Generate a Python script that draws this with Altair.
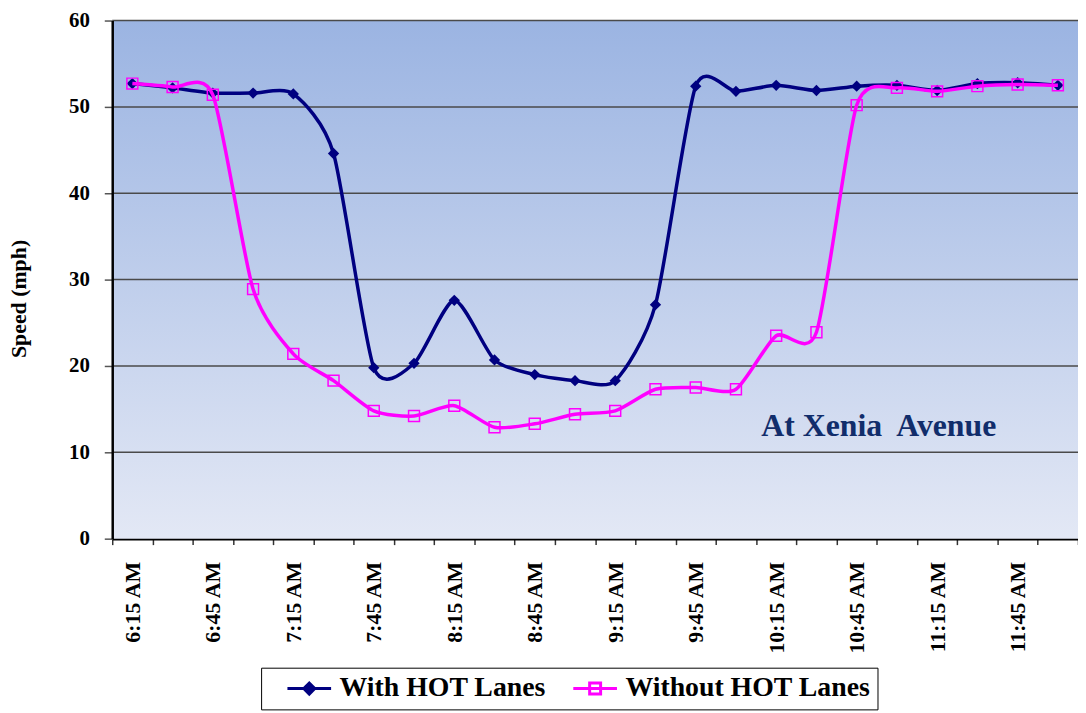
import altair as alt
import pandas as pd

# ---------------- data ----------------
times = ["6:15 AM", "6:30 AM", "6:45 AM", "7:00 AM", "7:15 AM", "7:30 AM",
         "7:45 AM", "8:00 AM", "8:15 AM", "8:30 AM", "8:45 AM", "9:00 AM",
         "9:15 AM", "9:30 AM", "9:45 AM", "10:00 AM", "10:15 AM", "10:30 AM",
         "10:45 AM", "11:00 AM", "11:15 AM", "11:30 AM", "11:45 AM", "12:00 PM"]
with_hot = [52.7, 52.2, 51.6, 51.6, 51.5, 44.6, 19.8, 20.3, 27.6, 20.7, 19.0, 18.3,
            18.3, 27.1, 52.4, 51.8, 52.5, 51.9, 52.4, 52.5, 51.9, 52.7, 52.8, 52.5]
without_hot = [52.7, 52.3, 51.4, 28.9, 21.4, 18.3, 14.8, 14.2, 15.4, 12.9, 13.3, 14.4,
               14.8, 17.3, 17.5, 17.3, 23.5, 23.9, 50.2, 52.2, 51.8, 52.4, 52.6, 52.5]
series_names = ["With HOT Lanes", "Without HOT Lanes"]
series_colors = ["#000080", "#FF00FF"]
y_ticks = [0, 10, 20, 30, 40, 50, 60]
grid_values = [10, 20, 30, 40, 50, 60]
x_label_idx = list(range(0, 24, 2))
x_tick_pos = [i - 0.5 for i in range(25)]
annotation_text = ["At Xenia\u00a0 Avenue"]
annotation_x = [18.55]
annotation_y = [11.9]

# ---------------- tables ----------------
rows = []
for i, t in enumerate(times):
    rows.append({"idx": i, "time": t, "speed": with_hot[i], "series": series_names[0]})
for i, t in enumerate(times):
    rows.append({"idx": i, "time": t, "speed": without_hot[i], "series": series_names[1]})
df = pd.DataFrame(rows)

FONT = "Liberation Serif"
W, H = 973, 522
TENSION = 0.3

xscale = alt.Scale(domain=[-0.5, 23.5], nice=False, zero=False)
yscale = alt.Scale(domain=[0, 60], nice=False, zero=True)

label_array = "[" + ",".join("'" + t + "'" for t in times) + "]"

# background gradient (carries the x tick axis)
bg_df = pd.DataFrame({"x0": [-0.5], "x1": [23.5], "y0": [0], "y1": [60]})
bg = alt.Chart(bg_df).mark_rect(
    fill=alt.Gradient(
        gradient="linear",
        stops=[alt.GradientStop(color="#9bb4e2", offset=0),
               alt.GradientStop(color="#e3e8f5", offset=1)],
        x1=0, x2=0, y1=0, y2=1,
    ),
).encode(
    x=alt.X("x0:Q", scale=xscale, axis=alt.Axis(
        orient="bottom", values=x_tick_pos, labels=False, title=None, grid=False,
        ticks=True, tickSize=6, tickColor="#333333", tickWidth=1.5,
        domain=True, domainColor="black", domainWidth=2.5)),
    x2="x1",
    y=alt.Y("y0:Q", scale=yscale, axis=None),
    y2="y1",
)

# horizontal gridlines + y axis
grid_df = pd.DataFrame({"v": grid_values})
grid = alt.Chart(grid_df).mark_rule(color="#4a4a4a", strokeWidth=1.5).encode(
    y=alt.Y("v:Q", scale=yscale, axis=alt.Axis(
        orient="left", values=y_ticks, title="Speed (mph)", grid=False,
        titleFont=FONT, titleFontSize=22, titleFontWeight="bold", titleColor="black",
        titleX=-82, titleY=280,
        labelFont=FONT, labelFontSize=21, labelFontWeight="bold", labelColor="black",
        labelPadding=15, tickSize=8, tickColor="#555555", tickWidth=1.5,
        domainColor="black", domainWidth=2.5, zindex=1))
)

line_with = alt.Chart(df).transform_filter(
    alt.datum.series == series_names[0]
).mark_line(interpolate="cardinal", tension=TENSION, strokeWidth=3.5,
            color=series_colors[0]).encode(
    x=alt.X("idx:Q", scale=xscale, axis=alt.Axis(
        orient="bottom", values=x_label_idx, labelExpr=label_array + "[datum.value]",
        ticks=False, domain=False, grid=False, title=None,
        labelAngle=270, labelFont=FONT, labelFontSize=22, labelFontWeight="bold",
        labelColor="black", labelPadding=23, labelOverlap=False)),
    y=alt.Y("speed:Q", scale=yscale, axis=None),
)

pts_with = alt.Chart(df).transform_filter(
    alt.datum.series == series_names[0]
).mark_point(shape="diamond", filled=True, size=130, color=series_colors[0], opacity=1).encode(
    x=alt.X("idx:Q", scale=xscale, axis=None),
    y=alt.Y("speed:Q", scale=yscale, axis=None),
)

line_without = alt.Chart(df).transform_filter(
    alt.datum.series == series_names[1]
).mark_line(interpolate="cardinal", tension=TENSION, strokeWidth=3.5,
            color=series_colors[1]).encode(
    x=alt.X("idx:Q", scale=xscale, axis=None),
    y=alt.Y("speed:Q", scale=yscale, axis=None),
)

pts_without = alt.Chart(df).transform_filter(
    alt.datum.series == series_names[1]
).mark_point(shape="square", filled=False, size=121, stroke=series_colors[1],
             strokeWidth=1.5, opacity=1).encode(
    x=alt.X("idx:Q", scale=xscale, axis=None),
    y=alt.Y("speed:Q", scale=yscale, axis=None),
)

ann_df = pd.DataFrame({"ax": annotation_x, "ay": annotation_y, "label": annotation_text})
ann = alt.Chart(ann_df).mark_text(
    font=FONT, fontSize=32, fontWeight="bold", color="#112d6b",
    align="center", baseline="alphabetic",
).encode(
    x=alt.X("ax:Q", scale=xscale, axis=None),
    y=alt.Y("ay:Q", scale=yscale, axis=None),
    text="label:N",
)

# legend symbols: line with marker (custom paths, offset to the right of the symbol slot)
legend_paths = [
    "M0.69,0L6.19,0M2.75,0L3.44,-0.69L4.13,0L3.44,0.69Z",
    "M0.69,0L6.19,0M2.75,-0.69L4.13,-0.69L4.13,0.69L2.75,0.69Z",
]
legend_fills = ["#000080", "transparent"]

leg = alt.Legend(
    title=None, orient="none", legendX=150, legendY=652, direction="horizontal",
    labelFont=FONT, labelFontSize=28, labelFontWeight="bold", labelColor="black",
    symbolSize=256, symbolStrokeWidth=3, symbolOpacity=1,
    labelOffset=44, columnPadding=8, padding=7,
    strokeColor="black", fillColor="white", labelLimit=500,
)

legend_layer = alt.Chart(df).transform_filter("false").mark_point(opacity=1).encode(
    x=alt.X("idx:Q", scale=xscale, axis=None),
    y=alt.Y("speed:Q", scale=yscale, axis=None),
    shape=alt.Shape("series:N", scale=alt.Scale(domain=series_names, range=legend_paths), legend=leg),
    fill=alt.Fill("series:N", scale=alt.Scale(domain=series_names, range=legend_fills), legend=leg),
    stroke=alt.Stroke("series:N", scale=alt.Scale(domain=series_names, range=series_colors), legend=leg),
)

chart = alt.layer(
    bg, grid, line_with, pts_with, line_without, pts_without, ann, legend_layer
).resolve_axis(
    x="independent", y="independent"
).properties(
    width=W, height=H,
    autosize=alt.AutoSizeParams(type="none"),
    padding={"left": 105, "top": 10, "right": 0, "bottom": 173},
    background="white",
).configure_view(stroke=None)

chart.save("out.html", embed_options={"renderer": "svg", "actions": False})
